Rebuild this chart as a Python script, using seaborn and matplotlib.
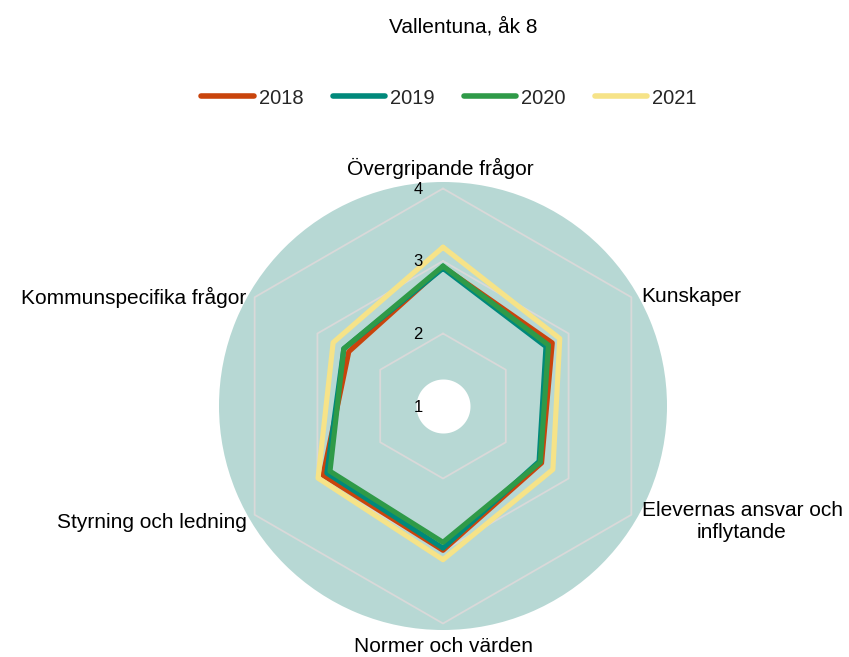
"""
Radar chart: Vallentuna, åk 8 - average score per area and year.
"""
import numpy as np
import pandas as pd
import matplotlib
matplotlib.use("Agg")
import matplotlib.pyplot as plt
import matplotlib.transforms as mtransforms
from matplotlib.lines import Line2D
import seaborn as sns

# Data
categories = ["Övergripande frågor", "Kunskaper", "Elevernas ansvar och\ninflytande",
              "Normer och värden", "Styrning och ledning", "Kommunspecifika frågor"]
years = ["2018", "2019", "2020", "2021"]
values_2018 = [2.92, 2.74, 2.57, 2.99, 2.91, 2.50]
values_2019 = [2.90, 2.64, 2.53, 2.96, 2.85, 2.58]
values_2020 = [2.93, 2.68, 2.55, 2.88, 2.80, 2.58]
values_2021 = [3.19, 2.86, 2.75, 3.12, 2.99, 2.75]
ring_values = [1, 2, 3, 4]
palette = {"2018": "#c9440c", "2019": "#00897b", "2020": "#2f9a48", "2021": "#f6e388"}

sns.set_theme(style="white")
plt.rcParams["font.family"] = ["Liberation Sans", "DejaVu Sans"]

W, H = 849, 657
fig = plt.figure(figsize=(W / 100, H / 100), dpi=100)

# centre of radar (pixels from top-left) and outer circle radius
cx, cy, R = 443, 406, 224
px_per_unit = 72.5
rmax = 1 + R / px_per_unit
ax = fig.add_axes([(cx - R) / W, (H - cy - R) / H, 2 * R / W, 2 * R / H], projection="polar")
ax.set_theta_offset(np.pi / 2)
ax.set_theta_direction(-1)
ax.set_facecolor("#b7d8d4")
ax.grid(False)
ax.spines["polar"].set_visible(False)

n = len(categories)
angles = np.linspace(0, 2 * np.pi, n, endpoint=False)
angles_closed = np.append(angles, 2 * np.pi)

# white hole in the middle
t = np.linspace(0, 2 * np.pi, 200)
ax.fill_between(t, 1, 1 + 27 / px_per_unit, color="white", zorder=1, lw=0)

# hexagonal grid
for rv in ring_values[1:]:
    ax.plot(angles_closed, [rv] * (n + 1), color="#d9d9d9", lw=1.3, zorder=2)

# ring labels
lab_tr = mtransforms.offset_copy(ax.transData, fig=fig, x=-25, y=-1, units="dots")
for rv in ring_values:
    ax.text(0, rv, str(rv), transform=lab_tr, ha="center", va="center",
            fontsize=12, color="black", zorder=5)

# series
series = {"2018": values_2018, "2019": values_2019, "2020": values_2020, "2021": values_2021}
rows = []
for y in years:
    vals = series[y] + [series[y][0]]
    for a, v in zip(angles_closed, vals):
        rows.append({"year": y, "theta": a, "value": v})
df = pd.DataFrame(rows)

for y in years:
    sub = df[df["year"] == y]
    sns.lineplot(data=sub, x="theta", y="value", color=palette[y], lw=3.7,
                 sort=False, estimator=None, ax=ax, zorder=3, legend=False)
ax.set_xlabel("")
ax.set_ylabel("")
ax.set_xticks([])
ax.set_yticks([])
ax.set_ylim(1, rmax)

# category labels (pixel positions)
def ftext(x, y, s, size=15, **kw):
    fig.text(x / W, 1 - y / H, s, fontsize=size, color="black", **kw)

ftext(440, 168, categories[0], ha="center", va="center")
ftext(641, 296, categories[1], ha="left", va="center")
ftext(742, 521, categories[2], ha="center", va="center", linespacing=1.2)
ftext(443, 647, categories[3], ha="center", va="center")
ftext(247, 523, categories[4], ha="right", va="center")
ftext(246, 297, categories[5], ha="right", va="center")

# title
ftext(463, 27, "Vallentuna, åk 8", ha="center", va="center")

# legend
handles = [Line2D([0], [0], color=palette[y], lw=4, solid_capstyle="round") for y in years]
fig.legend(handles, years, loc="center", bbox_to_anchor=(449 / W, 1 - 98 / H), ncol=4,
           frameon=False, fontsize=14.5, handlelength=2.6, handletextpad=0.25,
           columnspacing=1.45)

fig.savefig("out.png", dpi=100)
